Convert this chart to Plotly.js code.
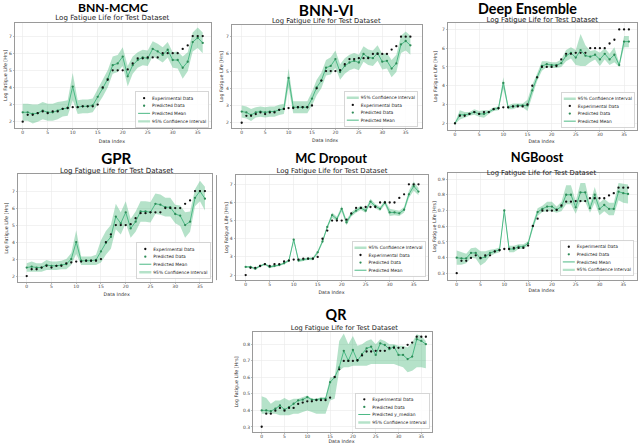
<!DOCTYPE html>
<html><head><meta charset="utf-8">
<script src="https://cdn.plot.ly/plotly-3.0.1.min.js"></script>
<style>
html,body{margin:0;padding:0;overflow:hidden;background:#fff;width:640px;height:443px}
#wrap{width:1600px;height:1108px;transform:scale(0.4);transform-origin:0 0}
</style></head>
<body><div id="wrap"><div id="chart"></div></div>
<script>
const S = 2.5; // render scale (page is drawn at 2.5x and scaled down)

const dataIndex = [0,1,2,3,4,5,6,7,8,9,10,11,12,13,14,15,16,17,18,19,20,21,22,23,24,25,26,27,28,29,30,31,32,33,34,35,36];
const xTickVals = [0,5,10,15,20,25,30,35];

// Experimental log fatigue life
const expLogLife = [2.0,2.4,2.4,2.5,2.6,2.5,2.6,2.6,2.75,2.8,2.85,2.85,2.9,2.9,2.9,3.0,4.0,4.45,5.0,5.0,5.0,5.05,5.4,5.7,5.7,5.75,5.75,5.75,6.0,6.0,6.0,6.0,6.25,6.45,7.0,7.0,7.0];
// Experimental values on the rescaled axis used by NGBoost and QR
const expScaled = [0.301,0.380,0.380,0.398,0.415,0.398,0.415,0.415,0.439,0.447,0.455,0.455,0.462,0.462,0.462,0.477,0.602,0.648,0.699,0.699,0.699,0.703,0.732,0.756,0.756,0.760,0.760,0.760,0.778,0.778,0.778,0.778,0.796,0.810,0.845,0.845,0.845];

const mcmcPred = [2.55,2.55,2.45,2.5,2.65,2.55,2.55,2.65,2.75,2.8,4.05,2.85,2.9,2.9,2.95,3.45,3.95,4.5,5.3,5.4,5.8,4.65,5.3,5.6,5.75,5.7,6.25,6.1,5.9,6.2,5.6,5.6,5.15,5.5,6.65,6.9,6.6];
const mcmcHalf = [0.5,0.5,0.55,0.5,0.5,0.5,0.5,0.5,0.45,0.45,0.8,0.4,0.4,0.4,0.4,0.45,0.5,0.5,0.5,0.5,0.55,0.6,0.5,0.45,0.45,0.45,0.45,0.45,0.45,0.45,0.45,0.5,0.65,0.55,0.55,0.6,0.6];

const viPred = [2.65,2.6,2.45,2.6,2.65,2.6,2.65,2.65,2.75,2.8,4.6,2.9,2.9,2.9,2.9,3.4,4.05,4.45,5.2,5.3,5.7,4.95,5.3,5.5,5.6,5.5,6.0,5.8,5.75,6.05,5.55,5.6,5.15,5.45,6.55,6.75,6.5];
const viHalf = [0.35,0.35,0.35,0.3,0.3,0.3,0.3,0.3,0.3,0.3,0.55,0.35,0.35,0.35,0.35,0.4,0.45,0.45,0.45,0.5,0.5,0.45,0.45,0.45,0.45,0.45,0.45,0.45,0.45,0.45,0.45,0.45,0.5,0.5,0.5,0.55,0.55];

const dePred = [2.0,2.45,2.45,2.5,2.6,2.5,2.5,2.6,2.75,2.8,4.15,2.85,2.9,2.95,2.95,2.95,3.75,4.45,5.05,5.15,5.1,5.1,5.2,5.6,5.75,5.5,5.9,5.6,5.55,5.65,5.4,5.7,5.4,5.65,5.1,6.35,6.35];
const deHalf = [0.05,0.25,0.15,0.1,0.15,0.15,0.2,0.1,0.1,0.1,0.3,0.1,0.15,0.1,0.1,0.3,0.3,0.2,0.25,0.15,0.15,0.15,0.2,0.3,0.3,0.4,0.85,0.55,0.3,0.25,0.35,0.3,0.3,0.4,0.1,0.3,0.3];

const gprPred = [2.5,2.55,2.5,2.5,2.65,2.6,2.6,2.65,2.7,3.0,4.0,2.9,2.9,2.9,2.95,3.45,3.95,4.3,5.5,5.1,5.75,4.8,5.2,5.8,5.8,5.75,6.25,6.2,6.05,6.05,5.65,5.55,5.0,5.2,6.6,7.0,6.55];
const gprHalf = [0.25,0.3,0.25,0.25,0.3,0.25,0.25,0.25,0.3,0.35,0.7,0.25,0.25,0.25,0.3,0.65,0.7,0.7,0.75,0.65,0.65,0.55,0.6,0.6,0.6,0.6,0.6,0.6,0.55,0.55,0.55,0.6,0.75,0.6,0.5,0.6,0.7];

const mcdPred = [2.45,2.45,2.35,2.5,2.6,2.45,2.5,2.55,2.65,2.8,3.95,2.8,2.85,2.9,2.9,3.25,3.85,4.65,5.3,5.1,5.65,4.9,5.35,5.55,5.7,5.55,6.05,5.8,5.65,6.0,5.45,5.45,5.4,5.6,6.45,6.9,6.6];
const mcdHalf = [0.05,0.05,0.07,0.05,0.05,0.07,0.05,0.05,0.05,0.07,0.1,0.1,0.08,0.07,0.08,0.1,0.1,0.1,0.15,0.12,0.15,0.15,0.12,0.12,0.12,0.12,0.15,0.12,0.12,0.12,0.2,0.15,0.15,0.15,0.2,0.25,0.2];

const ngbPred = [0.40,0.395,0.395,0.43,0.43,0.395,0.405,0.43,0.44,0.45,0.70,0.455,0.455,0.47,0.47,0.49,0.60,0.69,0.71,0.725,0.725,0.705,0.725,0.80,0.80,0.72,0.815,0.815,0.715,0.80,0.71,0.735,0.71,0.71,0.82,0.81,0.805];
const ngbHalf = [0.045,0.04,0.03,0.03,0.035,0.045,0.035,0.02,0.015,0.015,0.01,0.02,0.02,0.015,0.015,0.015,0.02,0.025,0.02,0.03,0.03,0.02,0.03,0.06,0.06,0.04,0.06,0.06,0.03,0.05,0.04,0.04,0.04,0.04,0.055,0.06,0.06];

const qrPred = [0.40,0.40,0.395,0.41,0.43,0.405,0.42,0.44,0.46,0.465,0.48,0.465,0.465,0.47,0.47,0.57,0.60,0.66,0.76,0.70,0.765,0.70,0.74,0.775,0.785,0.735,0.805,0.795,0.77,0.785,0.735,0.735,0.71,0.725,0.83,0.82,0.80];
const qrLower = [0.38,0.38,0.38,0.38,0.37,0.37,0.37,0.38,0.38,0.39,0.40,0.39,0.38,0.38,0.38,0.46,0.47,0.64,0.66,0.66,0.67,0.67,0.67,0.67,0.68,0.68,0.68,0.68,0.68,0.68,0.67,0.66,0.63,0.64,0.66,0.66,0.655];
const qrUpper = [0.485,0.475,0.44,0.46,0.46,0.475,0.46,0.47,0.47,0.48,0.49,0.47,0.47,0.48,0.48,0.60,0.60,0.82,0.865,0.80,0.85,0.79,0.80,0.82,0.83,0.80,0.83,0.82,0.80,0.80,0.79,0.79,0.78,0.81,0.86,0.85,0.82];

const subtitleText = 'Log Fatigue Life for Test Dataset';
const xLabelText = 'Data Index';
const yLabelText = 'Log Fatigue Life [Hrs]';
const labels = {exp:'Experimental Data', pred:'Predicted Data', mean:'Predicted Mean', ci:'95% Confidence Interval'};

function minus(a,b){return a.map((v,i)=>+(v-b[i]).toFixed(4));}
function plus(a,b){return a.map((v,i)=>+(v+b[i]).toFixed(4));}

// panel geometry in page pixels (640x443)
const panels = [
 {name:'BNN-MCMC', tX:113, tY:6.6, tS:12.1, sX:112.2, sY:17.8, sS:7.1, L:15, R:211, T:23, B:128, xr:[-1.54,37.66], yr:[1.63,7.76], dt:1, fmt:'d',
  yl:[5,75.5], xl:[112,141], legR:209.3, legB:127.5, order:['exp','pred','mean','ci'], meanLabel:labels.mean,
  exp:expLogLife, pred:mcmcPred, lo:minus(mcmcPred,mcmcHalf), hi:plus(mcmcPred,mcmcHalf)},
 {name:'BNN-VI', tX:326.3, tY:9.5, tS:15.5, sX:326.3, sY:20.9, sS:6.75, L:232, R:422, T:25, B:128, xr:[-2.07,38.48], yr:[1.69,7.68], dt:1, fmt:'d',
  yl:[222,76.5], xl:[325,139.8], legR:418, legB:126.7, order:['ci','exp','pred','mean'], meanLabel:labels.mean,
  exp:expLogLife, pred:viPred, lo:minus(viPred,viHalf), hi:plus(viPred,viHalf)},
 {name:'Deep Ensemble', tX:527.3, tY:8, tS:14.3, sX:542, sY:19.3, sS:6.95, L:448, R:637, T:23, B:130, xr:[-1.45,37.68], yr:[1.64,7.34], dt:1, fmt:'d',
  yl:[435.5,76.5], xl:[541.7,141.5], legR:635, legB:127.7, order:['ci','exp','pred','mean'], meanLabel:labels.mean,
  exp:expLogLife, pred:dePred, lo:minus(dePred,deHalf), hi:plus(dePred,deHalf)},
 {name:'GPR', tX:116.3, tY:158, tS:15.2, sX:116.7, sY:170.6, sS:7.05, L:18, R:211.7, T:174.3, B:281.7, xr:[-1.76,37.37], yr:[1.66,7.98], dt:1, fmt:'d',
  yl:[6.5,228], xl:[116.7,294.5], legR:210.5, legB:278.3, order:['exp','pred','mean','ci'], meanLabel:labels.mean,
  exp:expLogLife, pred:gprPred, lo:minus(gprPred,gprHalf), hi:plus(gprPred,gprHalf)},
 {name:'MC Dropout', tX:331, tY:158.3, tS:12.8, sX:332, sY:170.9, sS:6.9, L:235.7, R:428, T:175, B:280, xr:[-2.08,37.98], yr:[1.72,7.51], dt:1, fmt:'d',
  yl:[226.5,227.5], xl:[331.7,292], legR:425.7, legB:276.7, order:['ci','exp','pred','mean'], meanLabel:labels.mean,
  exp:expLogLife, pred:mcdPred, lo:minus(mcdPred,mcdHalf), hi:plus(mcdPred,mcdHalf)},
 {name:'NGBoost', tX:537, tY:156.7, tS:12.8, sX:541.7, sY:172.3, sS:6.8, L:448, R:637, T:173, B:280, xr:[-1.83,37.88], yr:[0.257,0.938], dt:0.1, fmt:'.1f',
  yl:[434,226.5], xl:[541.7,290.5], legR:634, legB:276, order:['exp','pred','mean','ci'], meanLabel:labels.mean,
  exp:expScaled, pred:ngbPred, lo:minus(ngbPred,ngbHalf), hi:plus(ngbPred,ngbHalf)},
 {name:'QR', tX:336, tY:315, tS:14.3, sX:344.5, sY:327.7, sS:6.66, L:253.3, R:431.7, T:332.3, B:431.7, xr:[-1.84,37.28], yr:[0.27,0.871], dt:0.1, fmt:'.1f',
  yl:[237,382], xl:[341.7,441], legR:429.5, legB:428.5, order:['exp','pred','mean','ci'], meanLabel:'Predicted y_median',
  exp:expScaled, pred:qrPred, lo:qrLower, hi:qrUpper}
];

const fx = p => p/640;
const fy = p => 1 - p/443;

const bandColor = 'rgba(60,179,113,0.38)';
const lineColor = '#4cb985';
const predColor = '#2e8b57';
const tickSize = 4.5, axisLabelSize = 4.8, legendSize = 4.4;

const traces = [];
const layout = {
  width: 640*S, height: 443*S,
  margin:{l:0,r:0,t:0,b:0},
  paper_bgcolor:'#ffffff', plot_bgcolor:'#ffffff',
  font:{family:'DejaVu Sans', color:'#222'},
  showlegend:true,
  annotations:[], shapes:[]
};

panels.forEach((p, k) => {
  const n = k+1;
  const xa = n===1 ? 'x' : 'x'+n;
  const ya = n===1 ? 'y' : 'y'+n;
  const lg = n===1 ? 'legend' : 'legend'+n;
  const rank = key => (p.order.indexOf(key)+1)*10;

  traces.push({
    type:'scatter', mode:'lines', xaxis:xa, yaxis:ya, legend:lg,
    x: dataIndex.concat(dataIndex.slice().reverse()),
    y: p.hi.concat(p.lo.slice().reverse()),
    fill:'toself', fillcolor:bandColor, line:{width:0, color:bandColor},
    name:labels.ci, legendrank:rank('ci'), hoverinfo:'skip'
  });
  traces.push({
    type:'scatter', mode:'lines', xaxis:xa, yaxis:ya, legend:lg,
    x:dataIndex, y:p.pred, line:{color:lineColor, width:1.0*S},
    name:p.meanLabel, legendrank:rank('mean')
  });
  traces.push({
    type:'scatter', mode:'markers', xaxis:xa, yaxis:ya, legend:lg,
    x:dataIndex, y:p.pred, marker:{color:predColor, size:2.3*S},
    name:labels.pred, legendrank:rank('pred')
  });
  traces.push({
    type:'scatter', mode:'markers', xaxis:xa, yaxis:ya, legend:lg,
    x:dataIndex, y:p.exp, marker:{color:'#111111', size:2.3*S},
    name:labels.exp, legendrank:rank('exp')
  });

  const axCommon = {
    showline:true, mirror:true, linecolor:'#9a9a9a', linewidth:1.0*S,
    showgrid:true, gridcolor:'#e9e9e9', gridwidth:0.6*S, zeroline:false,
    ticks:'outside', ticklen:1.2*S, tickwidth:0.5*S, tickcolor:'#777',
    tickfont:{family:'DejaVu Sans', size:tickSize*S, color:'#444'}
  };
  layout[n===1?'xaxis':'xaxis'+n] = Object.assign({}, axCommon, {
    domain:[fx(p.L), fx(p.R)], anchor:ya, range:p.xr,
    tickmode:'array', tickvals:xTickVals, ticklabelstandoff:-4
  });
  layout[n===1?'yaxis':'yaxis'+n] = Object.assign({}, axCommon, {
    domain:[fy(p.B), fy(p.T)], anchor:xa, range:p.yr,
    tickmode:'linear', tick0:0, dtick:p.dt, tickformat:p.fmt
  });
  layout[lg] = {
    x:fx(p.legR), xanchor:'right', y:fy(p.legB), yanchor:'bottom',
    bgcolor:'rgba(255,255,255,0.85)', bordercolor:'#cccccc', borderwidth:0.8*S,
    font:{family:'DejaVu Sans', size:legendSize*S, color:'#222'},
    traceorder:'normal', tracegroupgap:0
  };

  layout.annotations.push({
    xref:'paper', yref:'paper', x:fx(p.tX), y:fy(p.tY), xanchor:'center', yanchor:'middle',
    text:p.name, showarrow:false, font:{family:'Lato', size:p.tS*S, color:'#000', weight:'bold'}
  });
  layout.annotations.push({
    xref:'paper', yref:'paper', x:fx(p.sX), y:fy(p.sY), xanchor:'center', yanchor:'middle',
    text:subtitleText, showarrow:false, font:{family:'DejaVu Sans', size:p.sS*S, color:'#222'}
  });
  layout.annotations.push({
    xref:'paper', yref:'paper', x:fx(p.xl[0]), y:fy(p.xl[1]), xanchor:'center', yanchor:'middle',
    text:xLabelText, showarrow:false, font:{family:'DejaVu Sans', size:axisLabelSize*S, color:'#333'}
  });
  layout.annotations.push({
    xref:'paper', yref:'paper', x:fx(p.yl[0]), y:fy(p.yl[1]), xanchor:'center', yanchor:'middle',
    text:yLabelText, textangle:-90, showarrow:false, font:{family:'DejaVu Sans', size:axisLabelSize*S, color:'#333'}
  });
});

// thin separator edge visible between GPR and MC Dropout panels
layout.shapes.push({type:'line', xref:'paper', yref:'paper', x0:fx(216.5), x1:fx(216.5), y0:fy(175), y1:fy(280),
  line:{color:'#9a9a9a', width:1.0*S}});

Plotly.newPlot('chart', traces, layout, {staticPlot:true, displayModeBar:false});
</script>
</body></html>
